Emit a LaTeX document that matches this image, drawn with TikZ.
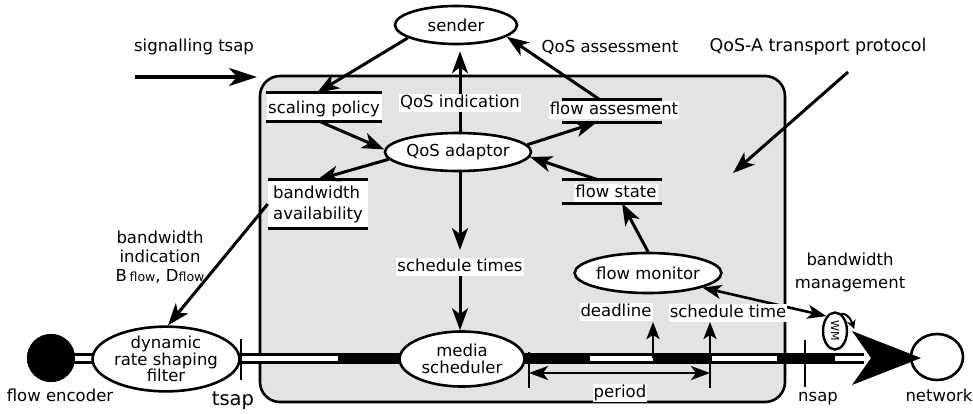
\documentclass[tikz,border=0pt]{standalone}
\usepackage{fontspec}
\setmainfont{DejaVu Sans}
\usetikzlibrary{shapes.geometric,arrows.meta,calc}

\begin{document}
\begin{tikzpicture}[x=1pt,y=-1pt,
  every node/.style={font=\fontsize{16.5}{19}\selectfont},
  txt/.style={inner sep=1pt, text height=12pt, text depth=3.5pt},
  lbl/.style={txt, fill=white},
  bubble/.style={ellipse, draw, line width=2.6pt, fill=white, inner sep=0pt,
                 align=center, font=\fontsize{16.5}{16.5}\selectfont},
  arr/.style={line width=3pt, -{Stealth[length=22pt,width=16pt,inset=6pt]}},
  sarr/.style={line width=2.6pt, -{Stealth[length=17pt,width=13pt,inset=4pt]}},
  darr/.style={line width=2.6pt, {Stealth[length=19pt,width=14pt,inset=5pt]}-{Stealth[length=19pt,width=14pt,inset=5pt]}},
  rule/.style={line width=3pt},
  tick/.style={line width=2.5pt}]

\useasboundingbox (0,0) rectangle (973,413);

% transport protocol region
\draw[line width=2.6pt, rounded corners=20pt, fill=black!11] (260,76) rectangle (785,402);

% media pipe from encoder to network
\coordinate (w1) at (338,358);
\coordinate (p1) at (590,358);
\coordinate (p2) at (653,358);
\coordinate (p3) at (712,358);
\coordinate (p4) at (777,358);
\coordinate (p5) at (835,358);
\coordinate (p6) at (864,358);
\node[circle, fill=black, minimum size=48pt, inner sep=0] (enc) at (51,358) {};
\node[ellipse, draw, line width=2.6pt, fill=white, minimum width=52pt, minimum height=46pt] (net) at (937,357) {};
\draw[line width=11pt] (enc.center) -- (p6);
\draw[white, line width=5pt] (enc.center) -- (w1);
\draw[white, line width=5pt] (p1) -- (p2);
\draw[white, line width=5pt] (p3) -- (p4);
\draw[white, line width=5pt] (p5) -- (p6);
\fill (921,358) -- (852,331) -- (871,358) -- (852,385) -- cycle;
\node[circle, fill=black, minimum size=48pt, inner sep=0] at (enc) {};

% service access points
\draw[tick] (241,339) -- (241,380);
\draw[tick] (805,340) -- (805,387);

% processes
\node[bubble, minimum width=122pt, minimum height=38pt] (sender) at (456,25) {sender};
\node[bubble, minimum width=123pt, minimum height=38pt] (adaptor) at (458,152) {QoS adaptor};
\node[bubble, minimum width=117pt, minimum height=40pt] (monitor) at (648,273) {flow monitor};
\node[bubble, minimum width=125pt, minimum height=55pt] (sched) at (462,359) {media\\scheduler};
\node[bubble, minimum width=128pt, minimum height=55pt] (filter) at (166,359) {dynamic\\rate shaping\\filter};
\node[ellipse, draw, line width=2.4pt, fill=white, minimum width=24pt, minimum height=37pt, inner sep=0] (wm) at (835,331) {};
\node[rotate=-90, inner sep=0, font=\fontsize{11}{11}\selectfont] at (wm) {WM};
\draw[line width=2pt, -{Stealth[length=9pt,width=9pt]}] (wm.70) to[out=0, in=110] ($(wm.east)+(6,-2)$);

% data stores
\node[fill=white, inner sep=0, minimum width=115pt, minimum height=28pt] (policy) at (324,107) {};
\node[txt] at (324,109) {scaling policy};
\draw[rule] (policy.north west) -- (policy.north east);
\draw[rule] (policy.south west) -- (policy.south east);

\node[fill=white, align=left, inner sep=0, minimum width=100pt, minimum height=48pt,
      font=\fontsize{16.5}{21}\selectfont] (avail) at (318,204) {bandwidth\\availability};
\draw[rule] (avail.north west) -- (avail.north east);
\draw[rule] (avail.south west) -- (avail.south east);

\node[inner sep=0, minimum width=100pt, minimum height=22pt] (assess) at (612,111) {};
\node[lbl] at (614,110) {flow assesment};
\draw[rule] (assess.north west) -- (assess.north east);
\draw[rule] (assess.south west) -- (assess.south east);

\node[inner sep=0, minimum width=100pt, minimum height=23pt] (state) at (612,191.5) {};
\node[lbl] at (616,193) {flow state};
\draw[rule] (state.north west) -- (state.north east);
\draw[rule] (state.south west) -- (state.south east);

% labelled flows
\node[lbl] (qi) at (460,103) {QoS indication};
\node[lbl] (stimes) at (460,267) {schedule times};
\draw[line width=3pt] (qi |- adaptor.north) -- (qi.south);
\draw[arr, shorten >=6pt] (qi.north) -- (qi |- sender.south);
\draw[arr, shorten >=8pt] (stimes |- adaptor.south) -- (stimes.north);
\draw[arr] (stimes.south) -- (stimes |- sched.north);

\draw[arr] (sender.195) -- ([xshift=-7pt]policy.north);
\draw[arr] ([xshift=-5pt]policy.south) -- (adaptor.178);
\draw[arr] (adaptor.186) -- ([xshift=-1pt]avail.north);
\draw[arr] (avail.west) -- ([xshift=2pt]filter.north);
\draw[arr] ([xshift=-12pt]assess.north) -- (sender.-13);
\draw[arr] (adaptor.6) -- ([xshift=-15pt]assess.south);
\draw[arr] ([xshift=-14pt]state.north) -- (adaptor.-4);
\draw[arr] (monitor.north) -- ([xshift=10pt]state.south);
\draw[darr] (monitor.-15) -- (wm.120);

% timing marks on the pipe
\node[lbl] (dl) at (616,312) {deadline};
\node[lbl] (stime) at (728,313) {schedule time};
\coordinate (dlTip) at (653,322);
\coordinate (stBot) at (710,388);
\coordinate (stTip) at (710,322);
\draw[sarr] (p2) -- (dlTip);
\draw[sarr] (stBot) -- (stTip);
\coordinate (perL) at (529,373);
\coordinate (perR) at (710,373);
\draw[tick] (529,352) -- (529,388);
\draw[darr] (perL) -- (perR);
\node[lbl] (period) at (620,393) {period};

% outside labels and signals
\node[txt] (sig) at (194,47) {signalling tsap};
\coordinate (sigA) at (135,77);
\coordinate (sigB) at (257,77);
\draw[line width=3.2pt, -{Stealth[length=28pt,width=18pt,inset=8pt]}] (sigA) -- (sigB);
\node[txt] (qa) at (610,48) {QoS assessment};
\node[txt, font=\fontsize{17.5}{20}\selectfont] (qosa) at (818,47) {QoS-A transport protocol};
\coordinate (protoA) at (848,72);
\coordinate (protoB) at (733,173);
\draw[arr] (protoA) -- (protoB);
\node[align=center, inner sep=0] (bwi) at (160,257)
  {bandwidth\\indication\\B\,{\fontsize{12.5}{12.5}\selectfont flow}, D{\fontsize{12.5}{12.5}\selectfont flow}};
\node[align=center, inner sep=0, font=\fontsize{16.5}{23}\selectfont] (bwm) at (850,272) {bandwidth\\management};
\node[txt] at (60,397) {flow encoder};
\node[txt, font=\fontsize{19.5}{20}\selectfont] at (233,401) {tsap};
\node[txt] at (818,397) {nsap};
\node[txt] at (939,397) {network};
\end{tikzpicture}
\end{document}
